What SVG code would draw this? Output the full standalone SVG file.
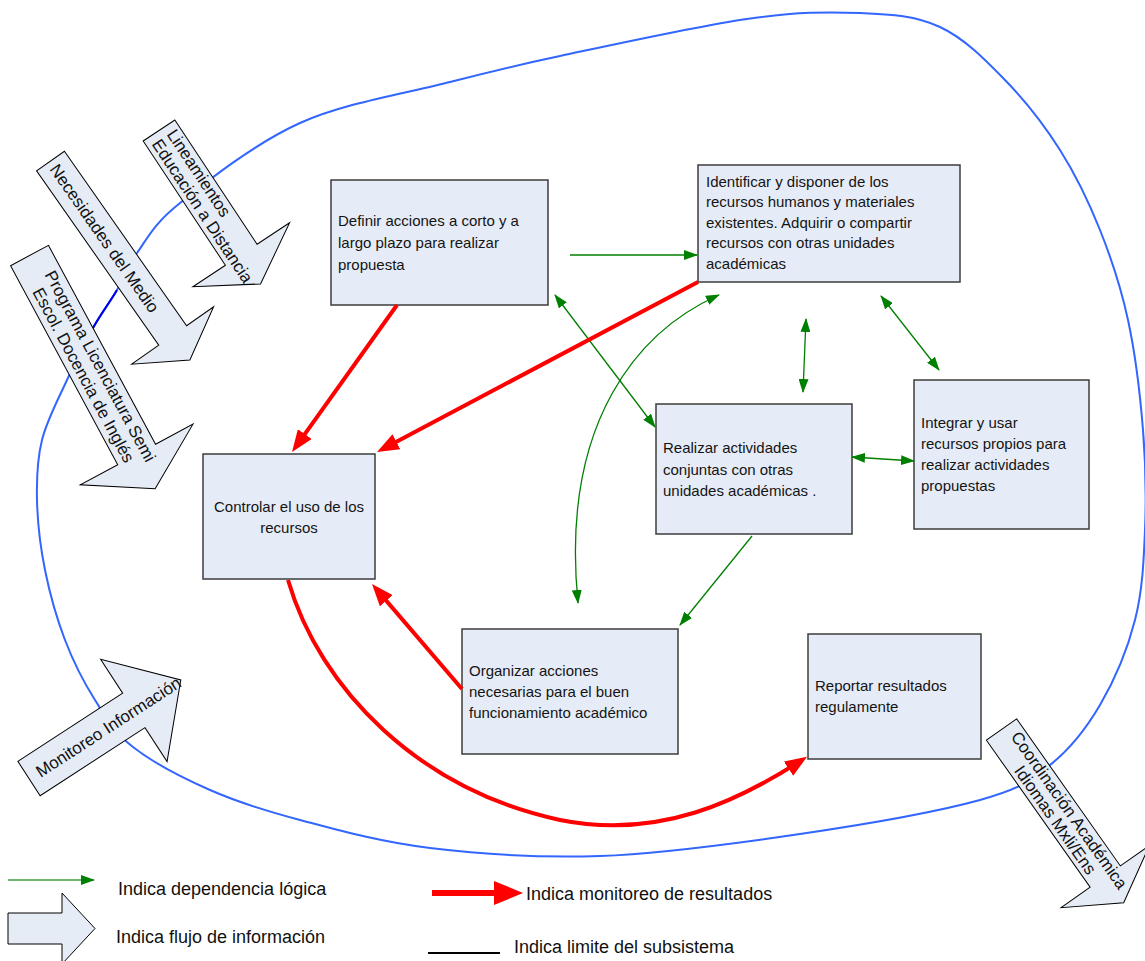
<svg xmlns="http://www.w3.org/2000/svg" width="1145" height="961" viewBox="0 0 1145 961">
  <style>
    .box { fill: #E6ECF7; stroke: #3c3c3c; stroke-width: 1.5; }
    .btxt { font-family: "Liberation Sans", Arial, sans-serif; font-size: 15px; fill: #141414; }
    .flow { fill: #E6ECF6; stroke: #000; stroke-width: 1; }
    .ftxt { font-family: "Liberation Sans", Arial, sans-serif; font-size: 17px; fill: #111; }
    .dep { fill: none; stroke: #008000; stroke-width: 1.3; }
    .mon { fill: none; stroke: #FF0000; stroke-width: 4; }
    .limit { fill: none; stroke: #3366FF; stroke-width: 2; }
    .ltxt { font-family: "Liberation Sans", Arial, sans-serif; font-size: 18px; fill: #111; }
  </style>
  <defs>
    <marker id="dep-head" viewBox="0 0 14 10" refX="13" refY="5" markerWidth="14" markerHeight="10" markerUnits="userSpaceOnUse" orient="auto-start-reverse">
      <path d="M0,0 L14,5 L0,10 z" fill="#008000"/>
    </marker>
    <marker id="mon-head" viewBox="0 0 22 17" refX="16" refY="8.5" markerWidth="22" markerHeight="17" markerUnits="userSpaceOnUse" orient="auto">
      <path d="M0,0 L22,8.5 L0,17 z" fill="#FF0000"/>
    </marker>
  </defs>

  <rect width="1145" height="961" fill="#fff"/>

  <!-- subsystem boundary -->
  <g id="boundary">
    <path class="limit" d="M137,253 C147.5,238.5 152.8,224.7 180,203 C207.2,181.3 255,143.2 300,123 C345,102.8 406.7,93.2 450,82 C493.3,70.8 510.5,66.5 560,56 C609.5,45.5 697,26.2 747,19 C797,11.8 827.8,11.7 860,13 C892.2,14.3 915.8,15.8 940,27 C964.2,38.2 985,59.5 1005,80 C1025,100.5 1044.2,125 1060,150 C1075.8,175 1088.7,201.7 1100,230 C1111.3,258.3 1120.8,286.7 1128,320 C1135.2,353.3 1140.2,395 1143,430 C1145.8,465 1146.3,498.3 1145,530 C1143.7,561.7 1142.5,590.8 1135,620 C1127.5,649.2 1114.2,680.8 1100,705 C1085.8,729.2 1070,749.2 1050,765 C1030,780.8 1021.7,788.5 980,800 C938.3,811.5 863.3,824.7 800,834 C736.7,843.3 661.7,853.7 600,856 C538.3,858.3 480,854 430,848 C380,842 336.7,829.7 300,820 C263.3,810.3 237.8,802.2 210,790 C182.2,777.8 152.2,762 133,747 C113.8,732 106.3,717.8 95,700 C83.7,682.2 73.3,661.7 65,640 C56.7,618.3 49.7,593.3 45,570 C40.3,546.7 37.5,521.7 37,500 C36.5,478.3 37,460 42,440 C47,420 58.5,398.7 67,380 C75.5,361.3 84.7,343 93,328 C101.3,313 109.7,302.5 117,290 C124.3,277.5 126.5,267.5 137,253 Z"/>
    <path d="M93,328 C101.3,313 109.7,302.5 117,290" fill="none" stroke="#0000EE" stroke-width="2"/>
  </g>

  <!-- incoming / outgoing information flows -->
  <g id="flow-lineamientos" transform="translate(159,130.5) rotate(56.5)">
    <polygon class="flow" points="0,-19 149,-19 149,-58 184,0 149,58 149,19 0,19"/>
    <text class="ftxt" x="7" y="-4">Lineamientos</text>
    <text class="ftxt" x="7" y="14">Educación a Distancia</text>
  </g>
  <g id="flow-necesidades" transform="translate(50.5,161) rotate(55)">
    <polygon class="flow" points="0,-17 213,-17 213,-50 243,0 213,50 213,17 0,17"/>
    <text class="ftxt" x="6" y="6">Necesidades del Medio</text>
  </g>
  <g id="flow-programa" transform="translate(29.5,255.5) rotate(61.7)">
    <polygon class="flow" points="0,-21.5 226,-21.5 226,-64 265,0 226,64 226,21.5 0,21.5"/>
    <text class="ftxt" x="131" y="-4" text-anchor="middle">Programa Licenciatura Semi</text>
    <text class="ftxt" x="131" y="15" text-anchor="middle">Escol. Docencia de Inglés</text>
  </g>
  <g id="flow-monitoreo" transform="translate(29,778.5) rotate(-33)">
    <polygon class="flow" points="0,-20.5 125,-20.5 125,-61 181,0 125,61 125,20.5 0,20.5"/>
    <text class="ftxt" x="10" y="6">Monitoreo Información</text>
  </g>
  <g id="flow-coordinacion" transform="translate(1001.5,729.5) rotate(54.8)">
    <polygon class="flow" points="0,-18.5 180,-18.5 180,-54 212,0 180,54 180,18.5 0,18.5"/>
    <text class="ftxt" x="105" y="-3" text-anchor="middle">Coordinación Académica</text>
    <text class="ftxt" x="105" y="14" text-anchor="middle">Idiomas Mxli/Ens</text>
  </g>

  <!-- process nodes -->
  <g id="node-definir">
    <rect class="box" x="331" y="180" width="217" height="125"/>
    <text class="btxt" x="338" y="225.5">Definir acciones a corto y a</text>
    <text class="btxt" x="338" y="247.5">largo plazo para realizar</text>
    <text class="btxt" x="338" y="269.5">propuesta</text>
  </g>
  <g id="node-identificar">
    <rect class="box" x="698" y="165" width="262" height="117"/>
    <text class="btxt" x="706" y="186.5">Identificar y disponer de los</text>
    <text class="btxt" x="706" y="207.1">recursos humanos y materiales</text>
    <text class="btxt" x="706" y="227.7">existentes. Adquirir o compartir</text>
    <text class="btxt" x="706" y="248.3">recursos con otras unidades</text>
    <text class="btxt" x="706" y="268.9">académicas</text>
  </g>
  <g id="node-controlar">
    <rect class="box" x="203" y="454" width="172" height="125"/>
    <text class="btxt" x="289" y="512" text-anchor="middle">Controlar el uso de los</text>
    <text class="btxt" x="289" y="533" text-anchor="middle">recursos</text>
  </g>
  <g id="node-realizar">
    <rect class="box" x="656" y="404" width="196" height="130"/>
    <text class="btxt" x="663" y="453">Realizar actividades</text>
    <text class="btxt" x="663" y="474.5">conjuntas con otras</text>
    <text class="btxt" x="663" y="496">unidades académicas .</text>
  </g>
  <g id="node-integrar">
    <rect class="box" x="914" y="380" width="175" height="149"/>
    <text class="btxt" x="921" y="428">Integrar y usar</text>
    <text class="btxt" x="921" y="449">recursos propios para</text>
    <text class="btxt" x="921" y="470">realizar actividades</text>
    <text class="btxt" x="921" y="491">propuestas</text>
  </g>
  <g id="node-organizar">
    <rect class="box" x="462" y="629" width="216" height="125"/>
    <text class="btxt" x="469" y="676">Organizar acciones</text>
    <text class="btxt" x="469" y="697">necesarias para el buen</text>
    <text class="btxt" x="469" y="718">funcionamiento académico</text>
  </g>
  <g id="node-reportar">
    <rect class="box" x="808" y="634" width="173" height="125"/>
    <text class="btxt" x="815" y="691">Reportar resultados</text>
    <text class="btxt" x="815" y="712">regulamente</text>
  </g>

  <!-- connectors: logical dependency (green), results monitoring (red) -->
  <g id="connectors">
    <path class="dep" d="M570,255 L697,255" marker-end="url(#dep-head)"/>
    <path class="dep" d="M555,295 L655,427" marker-start="url(#dep-head)" marker-end="url(#dep-head)"/>
    <path class="dep" d="M719,295 C640,330 560,420 578,603" marker-start="url(#dep-head)" marker-end="url(#dep-head)"/>
    <path class="dep" d="M806,319 L803,392" marker-start="url(#dep-head)" marker-end="url(#dep-head)"/>
    <path class="dep" d="M881,296 L939,370" marker-start="url(#dep-head)" marker-end="url(#dep-head)"/>
    <path class="dep" d="M852,457 L914,461" marker-start="url(#dep-head)" marker-end="url(#dep-head)"/>
    <path class="dep" d="M752,536 L680,625" marker-end="url(#dep-head)"/>

    <path class="mon" d="M397,305 L295.5,447.1" marker-end="url(#mon-head)"/>
    <path class="mon" d="M698,282 L382.3,449.2" marker-end="url(#mon-head)"/>
    <path class="mon" d="M462,689 L375.9,588.6" marker-end="url(#mon-head)"/>
    <path class="mon" d="M288,580 C320,690 420,790 560,820 C660,840 740,800 802,760" marker-end="url(#mon-head)"/>
  </g>

  <!-- legend -->
  <g id="legend">
    <path d="M8,880 L94,880" fill="none" stroke="#3f9f3f" stroke-width="1.5" marker-end="url(#dep-head)"/>
    <text class="ltxt" x="118" y="894.5">Indica dependencia lógica</text>
    <polygon class="flow" points="8,913 62,913 62,893 95,928.5 62,964 62,944 8,944"/>
    <text class="ltxt" x="116" y="942.5">Indica flujo de información</text>
    <path d="M432,893 L496,893" fill="none" stroke="#FF0000" stroke-width="6"/>
    <polygon points="494,881 523,893 494,905" fill="#FF0000"/>
    <text class="ltxt" x="526" y="899.5">Indica monitoreo de resultados</text>
    <path d="M428,953 L500,953" fill="none" stroke="#000" stroke-width="2"/>
    <text class="ltxt" x="514" y="952.5">Indica limite del subsistema</text>
  </g>
</svg>
